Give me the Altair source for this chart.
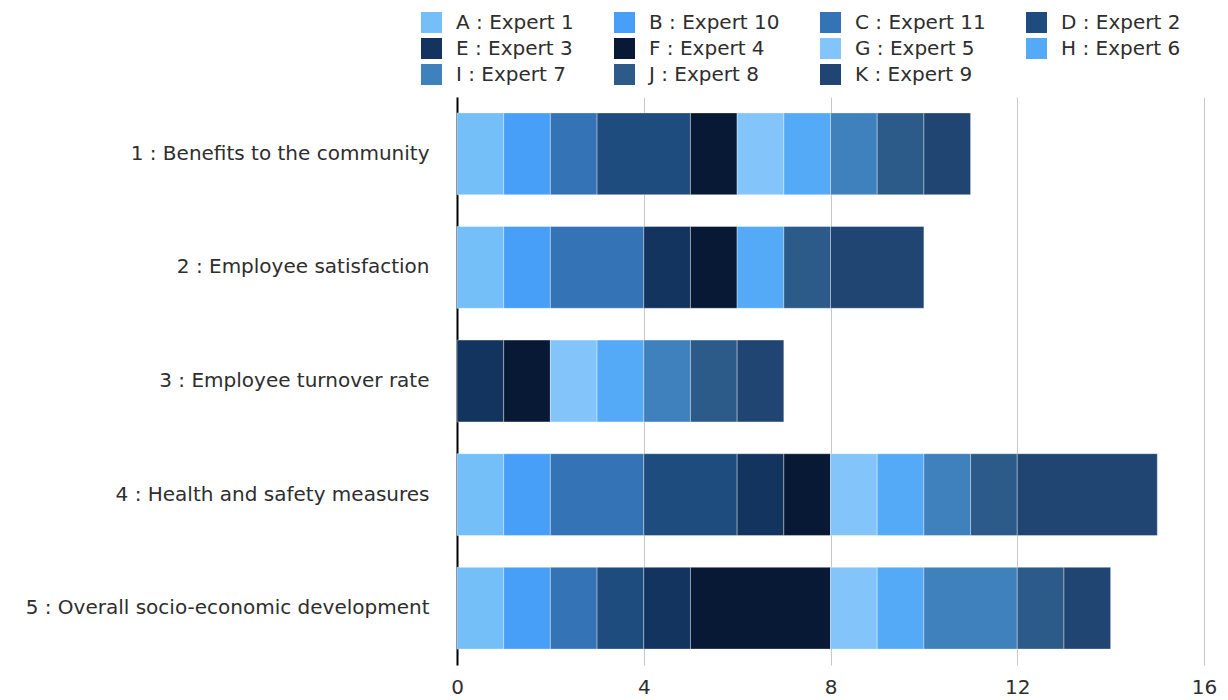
import altair as alt
import pandas as pd

# Criteria (y categories) and experts (stack segments)
criteria = [
    "1 : Benefits to the community",
    "2 : Employee satisfaction",
    "3 : Employee turnover rate",
    "4 : Health and safety measures",
    "5 : Overall socio-economic development",
]
experts = [
    "A : Expert 1", "B : Expert 10", "C : Expert 11", "D : Expert 2",
    "E : Expert 3", "F : Expert 4", "G : Expert 5", "H : Expert 6",
    "I : Expert 7", "J : Expert 8", "K : Expert 9",
]
colors = [
    "#75bff9", "#489ff8", "#3473b5", "#1f4c7e",
    "#13345f", "#081936", "#83c5fa", "#55aaf7",
    "#3f81bc", "#2c5b8a", "#204572",
]

# Scores given by each expert, one value per criterion (in the order above)
expert_a = [1, 1, 0, 1, 1]
expert_b = [1, 1, 0, 1, 1]
expert_c = [1, 2, 0, 2, 1]
expert_d = [2, 0, 0, 2, 1]
expert_e = [0, 1, 1, 1, 1]
expert_f = [1, 1, 1, 1, 3]
expert_g = [1, 0, 1, 1, 1]
expert_h = [1, 1, 1, 1, 1]
expert_i = [1, 0, 1, 1, 2]
expert_j = [1, 1, 1, 1, 1]
expert_k = [1, 2, 1, 3, 1]

series = [expert_a, expert_b, expert_c, expert_d, expert_e, expert_f,
          expert_g, expert_h, expert_i, expert_j, expert_k]

rows = []
for idx, (name, vals) in enumerate(zip(experts, series)):
    for crit, v in zip(criteria, vals):
        if v > 0:
            rows.append({"criterion": crit, "expert": name, "value": v, "order": idx})
df = pd.DataFrame(rows)

font = "DejaVu Sans"
text_color = "#2e2e2e"

chart = alt.Chart(df).mark_bar(
    stroke="#ffffff", strokeOpacity=0.35, strokeWidth=1
).encode(
    y=alt.Y(
        "criterion:N",
        sort=criteria,
        title=None,
        scale=alt.Scale(paddingInner=0.28, paddingOuter=0.14),
        axis=alt.Axis(
            labelFontSize=20, labelColor=text_color, labelFont=font,
            labelPadding=28, ticks=False, domain=True,
            domainColor="#000000", domainWidth=2, grid=False,
            labelLimit=450,
        ),
    ),
    x=alt.X(
        "sum(value):Q",
        title=None,
        stack="zero",
        scale=alt.Scale(domain=[0, 16], nice=False),
        axis=alt.Axis(
            values=[0, 4, 8, 12, 16], labelFontSize=20, labelColor=text_color,
            labelFont=font, labelPadding=12, labelFlush=False, ticks=False,
            domain=False, grid=True, gridColor="#c8c8c8", gridWidth=1,
        ),
    ),
    color=alt.Color(
        "expert:N",
        sort=experts,
        scale=alt.Scale(domain=experts, range=colors),
        legend=alt.Legend(
            title=None, orient="none", legendX=-36, legendY=-85,
            direction="horizontal", columns=4, gridAlign="each",
            columnPadding=40, rowPadding=5,
            symbolType="square", symbolSize=441, symbolStrokeWidth=0,
            symbolOpacity=1, labelFontSize=20, labelFont=font,
            labelColor=text_color, labelOffset=14, labelLimit=200,
        ),
    ),
    order=alt.Order("order:Q", sort="ascending"),
).properties(
    width=747,
    height=568,
    background="#ffffff",
    autosize=alt.AutoSizeParams(type="none"),
    padding={"left": 457, "top": 97, "right": 24, "bottom": 35},
).configure_view(strokeWidth=0, stroke=None)

chart.save("out.html", embed_options={"renderer": "svg", "actions": False})
